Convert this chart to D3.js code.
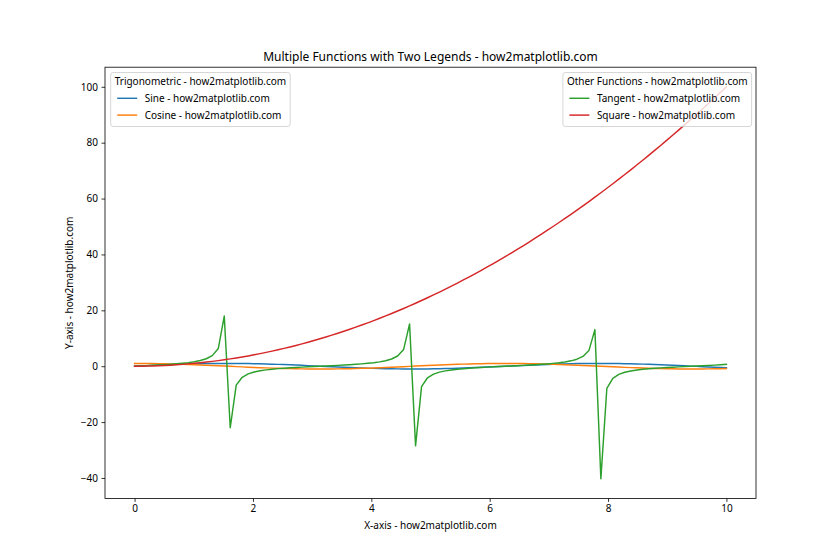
<!DOCTYPE html>
<meta charset="utf-8">
<style>
body { margin: 0; background: #fff; }
svg text { font-family: "Noto Sans", "DejaVu Sans", sans-serif; fill: #000; }
.axis path, .axis line { stroke: #000; stroke-width: 0.8; fill: none; }
.axis text { font-size: 10px; }
.series { fill: none; stroke-width: 1.46; stroke-linejoin: round; stroke-linecap: square; }
</style>
<svg width="840" height="560"></svg>
<script src="https://d3js.org/d3.v7.min.js"></script>
<script>
// x sampled at 100 evenly spaced points between 0 and 10
var xs = [0, 0.1010, 0.2020, 0.3030, 0.4040, 0.5051, 0.6061, 0.7071, 0.8081, 0.9091,
  1.0101, 1.1111, 1.2121, 1.3131, 1.4141, 1.5152, 1.6162, 1.7172, 1.8182, 1.9192,
  2.0202, 2.1212, 2.2222, 2.3232, 2.4242, 2.5253, 2.6263, 2.7273, 2.8283, 2.9293,
  3.0303, 3.1313, 3.2323, 3.3333, 3.4343, 3.5354, 3.6364, 3.7374, 3.8384, 3.9394,
  4.0404, 4.1414, 4.2424, 4.3434, 4.4444, 4.5455, 4.6465, 4.7475, 4.8485, 4.9495,
  5.0505, 5.1515, 5.2525, 5.3535, 5.4545, 5.5556, 5.6566, 5.7576, 5.8586, 5.9596,
  6.0606, 6.1616, 6.2626, 6.3636, 6.4646, 6.5657, 6.6667, 6.7677, 6.8687, 6.9697,
  7.0707, 7.1717, 7.2727, 7.3737, 7.4747, 7.5758, 7.6768, 7.7778, 7.8788, 7.9798,
  8.0808, 8.1818, 8.2828, 8.3838, 8.4848, 8.5859, 8.6869, 8.7879, 8.8889, 8.9899,
  9.0909, 9.1919, 9.2929, 9.3939, 9.4949, 9.5960, 9.6970, 9.7980, 9.8990, 10];

var sine = [0, 0.1008, 0.2007, 0.2984, 0.3931, 0.4839, 0.5696, 0.6496, 0.7230, 0.7889,
  0.8469, 0.8962, 0.9364, 0.9670, 0.9878, 0.9985, 0.9990, 0.9893, 0.9696, 0.9399,
  0.9007, 0.8523, 0.7952, 0.7300, 0.6574, 0.5781, 0.4928, 0.4026, 0.3082, 0.2107,
  0.1111, 0.0103, -0.0906, -0.1906, -0.2886, -0.3837, -0.4748, -0.5612, -0.6418, -0.7158,
  -0.7826, -0.8414, -0.8916, -0.9327, -0.9643, -0.9861, -0.9978, -0.9994, -0.9908, -0.9720,
  -0.9434, -0.9051, -0.8576, -0.8014, -0.7370, -0.6651, -0.5864, -0.5017, -0.4120, -0.3180,
  -0.2208, -0.1213, -0.0206, 0.0804, 0.1805, 0.2787, 0.3742, 0.4658, 0.5526, 0.6339,
  0.7086, 0.7762, 0.8358, 0.8869, 0.9290, 0.9615, 0.9843, 0.9971, 0.9997, 0.9921,
  0.9744, 0.9467, 0.9095, 0.8629, 0.8075, 0.7439, 0.6727, 0.5947, 0.5106, 0.4213,
  0.3277, 0.2308, 0.1315, 0.0308, -0.0701, -0.1704, -0.2688, -0.3646, -0.4566, -0.5440];

var cosine = [1, 0.9949, 0.9797, 0.9544, 0.9195, 0.8752, 0.8219, 0.7603, 0.6909, 0.6145,
  0.5318, 0.4437, 0.3510, 0.2548, 0.1560, 0.0556, -0.0453, -0.1459, -0.2449, -0.3414,
  -0.4344, -0.5230, -0.6063, -0.6834, -0.7536, -0.8160, -0.8701, -0.9154, -0.9513, -0.9776,
  -0.9938, -0.9999, -0.9959, -0.9817, -0.9575, -0.9235, -0.8801, -0.8277, -0.7669, -0.6984,
  -0.6225, -0.5405, -0.4529, -0.3606, -0.2648, -0.1662, -0.0659, 0.0351, 0.1357, 0.2349,
  0.3317, 0.4252, 0.5143, 0.5981, 0.6759, 0.7468, 0.8100, 0.8650, 0.9112, 0.9481,
  0.9753, 0.9926, 0.9998, 0.9968, 0.9836, 0.9604, 0.9274, 0.8849, 0.8334, 0.7735,
  0.7056, 0.6306, 0.5491, 0.4620, 0.3702, 0.2747, 0.1763, 0.0761, -0.0248, -0.1255,
  -0.2249, -0.3220, -0.4158, -0.5054, -0.5899, -0.6683, -0.7399, -0.8040, -0.8598, -0.9069,
  -0.9448, -0.9730, -0.9913, -0.9995, -0.9975, -0.9854, -0.9632, -0.9312, -0.8897, -0.8391];

var tangent = [0, 0.1014, 0.2048, 0.3127, 0.4276, 0.5529, 0.6931, 0.8545, 1.0464, 1.2840,
  1.5926, 2.0200, 2.6674, 3.7947, 6.331, 17.952, -22.029, -6.783, -3.9595, -2.7532,
  -2.0733, -1.6295, -1.3116, -1.0682, -0.8724, -0.7084, -0.5664, -0.4398, -0.3240, -0.2156,
  -0.1118, -0.0103, 0.0910, 0.1941, 0.3014, 0.4155, 0.5395, 0.6780, 0.8368, 1.0249,
  1.2571, 1.5568, 1.9688, 2.5862, 3.6424, 5.9345, 15.146, -28.494, -7.3027, -4.1382,
  -2.8439, -2.1289, -1.6677, -1.3399, -1.0904, -0.8907, -0.7240, -0.5800, -0.4521, -0.3354,
  -0.2263, -0.1222, -0.0206, 0.0806, 0.1835, 0.2902, 0.4035, 0.5263, 0.6631, 0.8195,
  1.0043, 1.2309, 1.5222, 1.9197, 2.5093, 3.5010, 5.5838, 13.098, -40.301, -7.906,
  -4.3328, -2.9402, -2.1871, -1.7073, -1.3690, -1.1132, -0.9093, -0.7397, -0.5939, -0.4645,
  -0.3469, -0.2372, -0.1326, -0.0308, 0.0703, 0.1729, 0.2791, 0.3916, 0.5133, 0.6484];

var square = [0, 0.0102, 0.0408, 0.0918, 0.1632, 0.2551, 0.3673, 0.4999, 0.6530, 0.8264,
  1.0203, 1.2346, 1.4692, 1.7243, 1.9998, 2.2957, 2.6120, 2.9487, 3.3058, 3.6833,
  4.0812, 4.4995, 4.9383, 5.3974, 5.8770, 6.3769, 6.8972, 7.4380, 7.9992, 8.5808,
  9.1827, 9.8051, 10.4479, 11.1111, 11.7947, 12.4987, 13.2231, 13.9680, 14.7332, 15.5188,
  16.3249, 17.1513, 17.9982, 18.8654, 19.7531, 20.6612, 21.5896, 22.5385, 23.5078, 24.4975,
  25.5076, 26.5381, 27.5890, 28.6603, 29.7521, 30.8642, 31.9967, 33.1497, 34.3230, 35.5168,
  36.7309, 37.9655, 39.2205, 40.4959, 41.7917, 43.1078, 44.4444, 45.8014, 47.1789, 48.5767,
  49.9949, 51.4335, 52.8926, 54.3720, 55.8718, 57.3921, 58.9328, 60.4938, 62.0753, 63.6772,
  65.2995, 66.9421, 68.6052, 70.2887, 71.9927, 73.7170, 75.4617, 77.2268, 79.0123, 80.8183,
  82.6446, 84.4914, 86.3585, 88.2461, 90.1541, 92.0824, 94.0312, 96.0004, 97.9900, 100];

var seriesNames = ["Sine - how2matplotlib.com", "Cosine - how2matplotlib.com",
  "Tangent - how2matplotlib.com", "Square - how2matplotlib.com"];
var seriesColors = ["#1f77b4", "#ff7f0e", "#2ca02c", "#d62728"];
var xTicks = [0, 2, 4, 6, 8, 10];
var yTicks = [-40, -20, 0, 20, 40, 60, 80, 100];

var svg = d3.select("svg"),
  margin = {top: 67.2, right: 84, bottom: 61.6, left: 105},
  width = 840 - margin.left - margin.right,
  height = 560 - margin.top - margin.bottom;

// matplotlib style 5% padding on each side of the data range
function padded(ext) {
  var p = (ext[1] - ext[0]) * 0.05;
  return [ext[0] - p, ext[1] + p];
}

var allY = sine.concat(cosine, tangent, square);
var x = d3.scaleLinear().domain(padded(d3.extent(xs))).range([0, width]);
var y = d3.scaleLinear().domain(padded(d3.extent(allY))).range([height, 0]);

var g = svg.append("g")
  .attr("transform", "translate(" + margin.left + "," + margin.top + ")");

g.append("clipPath").attr("id", "clip")
  .append("rect").attr("width", width).attr("height", height);

var line = d3.line()
  .x(function(d) { return x(d[0]); })
  .y(function(d) { return y(d[1]); });

var series = [sine, cosine, tangent, square];
g.append("g").attr("clip-path", "url(#clip)")
  .selectAll("path").data(series).enter().append("path")
  .attr("class", "series")
  .attr("stroke", function(d, i) { return seriesColors[i]; })
  .attr("d", function(vals) { return line(vals.map(function(v, i) { return [xs[i], v]; })); });

// axes
g.append("g")
  .attr("class", "axis")
  .attr("transform", "translate(0," + height + ")")
  .call(d3.axisBottom(x).tickValues(xTicks).tickSize(3.5).tickPadding(3.5).tickFormat(d3.format("d")))
  .call(function(a) { a.select(".domain").remove(); });

g.append("g")
  .attr("class", "axis")
  .call(d3.axisLeft(y).tickValues(yTicks).tickSize(3.5).tickPadding(3.5).tickFormat(d3.format("d")))
  .call(function(a) { a.select(".domain").remove(); });

g.append("rect")
  .attr("width", width).attr("height", height)
  .attr("fill", "none").attr("stroke", "#000").attr("stroke-width", 0.8);

// labels
svg.append("text")
  .attr("x", margin.left + width / 2).attr("y", 61)
  .attr("text-anchor", "middle").style("font-size", "12px")
  .text("Multiple Functions with Two Legends - how2matplotlib.com");

svg.append("text")
  .attr("x", margin.left + width / 2).attr("y", 529)
  .attr("text-anchor", "middle").style("font-size", "10px")
  .text("X-axis - how2matplotlib.com");

svg.append("text")
  .attr("transform", "translate(73," + (margin.top + height / 2) + ") rotate(-90)")
  .attr("text-anchor", "middle").style("font-size", "10px")
  .text("Y-axis - how2matplotlib.com");

// legends
function legend(title, idx, anchorX, alignRight) {
  var lg = svg.append("g");
  var frame = lg.append("rect")
    .attr("rx", 2.5).attr("ry", 2.5)
    .attr("fill", "#fff").attr("fill-opacity", 0.8)
    .attr("stroke", "#cccccc").attr("stroke-width", 0.8);
  var t = lg.append("text").attr("y", 85).attr("text-anchor", "middle")
    .style("font-size", "10px").text(title);
  var maxEntry = 0;
  var entries = idx.map(function(k, j) {
    var yy = 98.3 + j * 16.8;
    var ln = lg.append("line").attr("y1", yy).attr("y2", yy)
      .attr("stroke", seriesColors[k]).attr("stroke-width", 1.46);
    var tx = lg.append("text").attr("y", yy + 3.6).style("font-size", "10px").text(seriesNames[k]);
    maxEntry = Math.max(maxEntry, tx.node().getComputedTextLength());
    return {ln: ln, tx: tx};
  });
  var titleW = t.node().getComputedTextLength();
  var w = Math.max(titleW, 27.5 + maxEntry) + 8;
  var x0 = alignRight ? anchorX - w : anchorX;
  frame.attr("x", x0).attr("y", 72.5).attr("width", w).attr("height", 54);
  t.attr("x", x0 + w / 2);
  var inner = x0 + (w - Math.max(titleW, 27.5 + maxEntry)) / 2;
  entries.forEach(function(e) {
    e.ln.attr("x1", inner + 2.5).attr("x2", inner + 22.5);
    e.tx.attr("x", inner + 30);
  });
}

legend("Trigonometric - how2matplotlib.com", [0, 1], 110.7, false);
legend("Other Functions - how2matplotlib.com", [2, 3], 751.6, true);
</script>
